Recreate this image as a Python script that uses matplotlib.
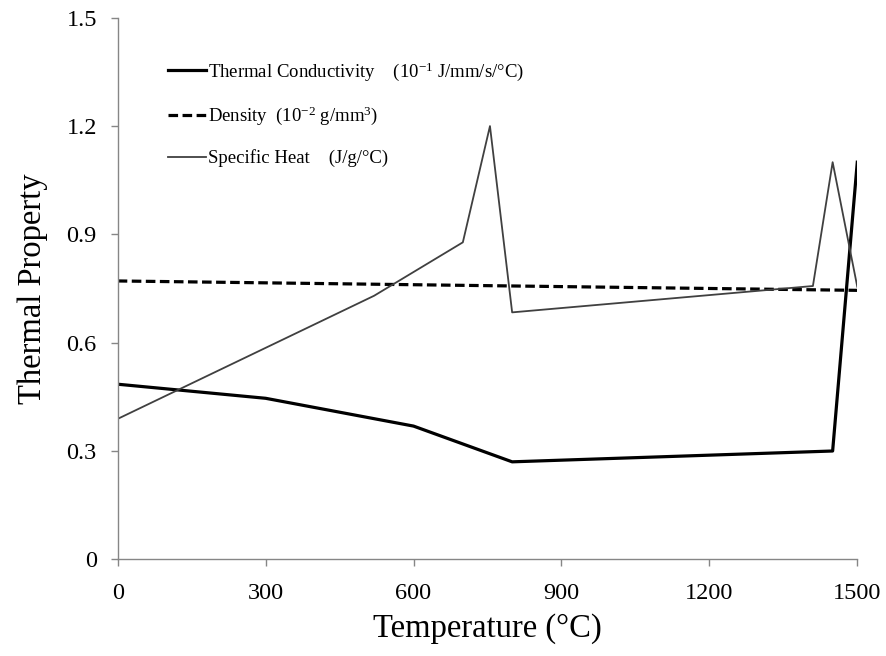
import matplotlib
matplotlib.use("Agg")
import matplotlib.pyplot as plt

plt.rcParams.update({
    "font.family": "Liberation Serif",
    "mathtext.fontset": "custom",
    "mathtext.rm": "Liberation Serif",
    "mathtext.it": "Liberation Serif:italic",
    "mathtext.bf": "Liberation Serif:bold",
})

# ---- data ----
cond_temp = [0, 300, 600, 800, 1450, 1500]
cond_val = [0.485, 0.446, 0.369, 0.270, 0.300, 1.100]

dens_temp = [0, 1500]
dens_val = [0.771, 0.745]

heat_temp = [0, 520, 700, 755, 800, 1410, 1450, 1500]
heat_val = [0.389, 0.730, 0.878, 1.200, 0.684, 0.757, 1.100, 0.755]

x_ticks = [0, 300, 600, 900, 1200, 1500]
y_ticks = [0, 0.3, 0.6, 0.9, 1.2, 1.5]
y_ticklabels = ["0", "0.3", "0.6", "0.9", "1.2", "1.5"]

labels = [
    r"Thermal Conductivity    (10$^{-1}$ J/mm/s/°C)",
    r"Density  (10$^{-2}$ g/mm$^{3}$)",
    r"Specific Heat    (J/g/°C)",
]

fig = plt.figure(figsize=(8.87, 6.56), dpi=100)
ax = fig.add_axes([0.1327, 0.1474, 0.8338, 0.8255])

ax.plot(cond_temp, cond_val, color="black", lw=2.3, label=labels[0])
ax.plot(dens_temp, dens_val, color="black", lw=2.3, dashes=(3, 1.4), label=labels[1])
ax.plot(heat_temp, heat_val, color="#404040", lw=1.3, label=labels[2])

ax.set_xlim(0, 1500)
ax.set_ylim(0, 1.5)
ax.set_xticks(x_ticks)
ax.set_yticks(y_ticks)
ax.set_yticklabels(y_ticklabels)

for side in ["top", "right"]:
    ax.spines[side].set_visible(False)
for side in ["left", "bottom"]:
    ax.spines[side].set_color("#868686")
    ax.spines[side].set_linewidth(1.0)
ax.tick_params(axis="both", direction="out", length=5, width=1.0, color="#868686",
               labelsize=17.5, labelcolor="black")
ax.tick_params(axis="x", pad=12)
ax.tick_params(axis="y", pad=10)

ax.set_xlabel("Temperature (°C)", fontsize=23.5, labelpad=7)
ax.set_ylabel("Thermal Property", fontsize=23.5, labelpad=13)

ax.legend(loc="upper left", bbox_to_anchor=(0.058, 0.935), frameon=False,
          fontsize=13.5, handlelength=2.0, handletextpad=0.15, labelspacing=1.17,
          borderaxespad=0)

fig.savefig("out.png", dpi=100)
